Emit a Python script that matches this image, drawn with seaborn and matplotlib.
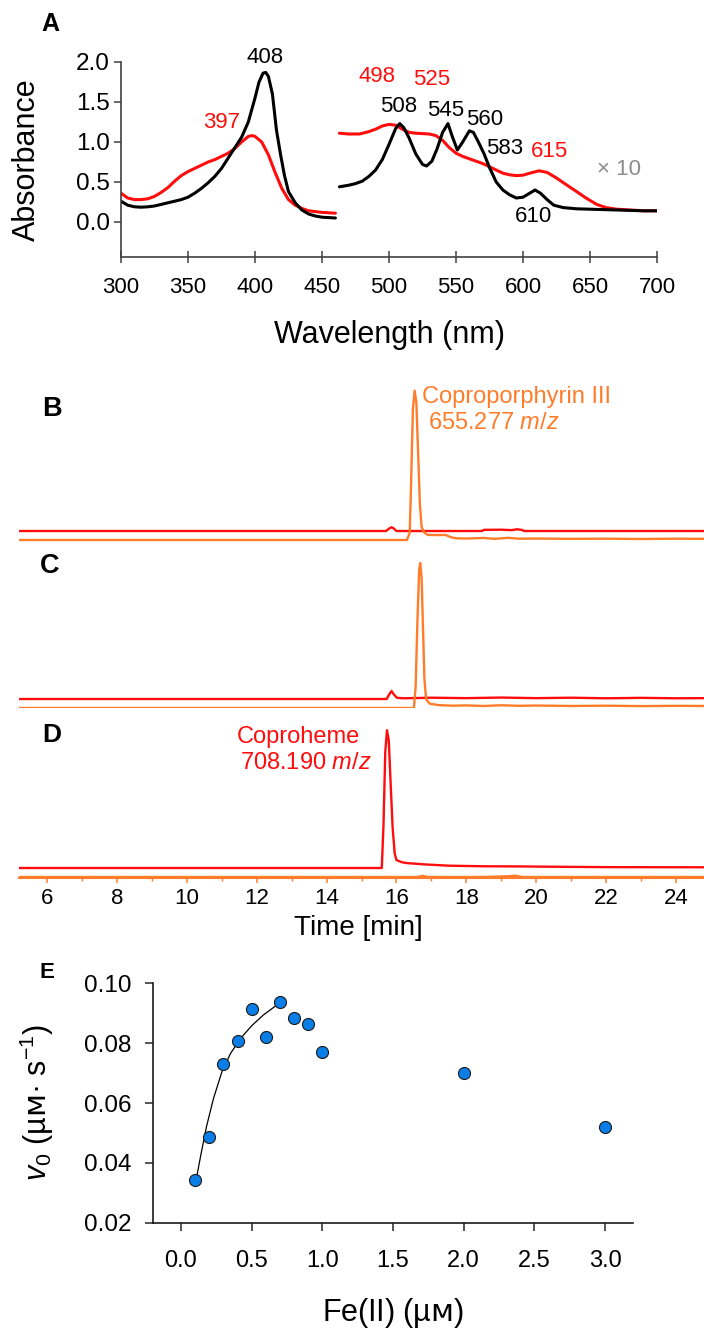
import numpy as np
import pandas as pd
import seaborn as sns
import matplotlib.pyplot as plt
from matplotlib.ticker import MultipleLocator, FormatStrFormatter

# ---- panel A: UV-vis spectra (right part is x10) ----
wl_black_soret = [300, 305, 310, 315, 320, 325, 330, 335, 340, 345, 350, 355, 360, 365, 370,
                  375, 380, 385, 390, 395, 400, 403, 406, 408, 410, 413, 416, 419, 422, 425,
                  430, 435, 440, 445, 450, 455, 460]
abs_black_soret = [0.26, 0.21, 0.19, 0.185, 0.19, 0.20, 0.22, 0.24, 0.26, 0.28, 0.31, 0.36, 0.42,
                   0.49, 0.57, 0.67, 0.80, 0.93, 1.06, 1.25, 1.55, 1.75, 1.86, 1.87, 1.82, 1.6,
                   1.15, 0.85, 0.58, 0.38, 0.24, 0.15, 0.10, 0.075, 0.06, 0.055, 0.05]
wl_red_soret = [300, 305, 310, 315, 320, 325, 330, 335, 340, 345, 350, 355, 360, 365, 370, 375,
                380, 385, 390, 395, 398, 400, 405, 410, 415, 420, 425, 430, 435, 440, 450, 460]
abs_red_soret = [0.36, 0.30, 0.28, 0.28, 0.29, 0.32, 0.37, 0.43, 0.51, 0.58, 0.63, 0.67, 0.71,
                 0.75, 0.78, 0.82, 0.86, 0.92, 1.00, 1.07, 1.08, 1.07, 1.00, 0.84, 0.62, 0.42,
                 0.28, 0.21, 0.17, 0.14, 0.12, 0.11]
wl_black_q = [463, 470, 475, 480, 485, 490, 495, 500, 505, 508, 511, 515, 520, 525, 528, 532,
              536, 540, 544, 547, 551, 555, 560, 563, 567, 571, 575, 580, 585, 590, 595, 600,
              605, 609, 613, 618, 623, 630, 640, 650, 660, 670, 680, 690, 700]
abs_black_q = [0.44, 0.46, 0.48, 0.51, 0.57, 0.65, 0.78, 0.97, 1.17, 1.23, 1.18, 1.05, 0.85,
               0.72, 0.70, 0.76, 0.92, 1.12, 1.23, 1.08, 0.90, 1.00, 1.14, 1.12, 0.99, 0.85,
               0.68, 0.50, 0.40, 0.34, 0.30, 0.31, 0.36, 0.40, 0.36, 0.28, 0.21, 0.18, 0.165,
               0.16, 0.155, 0.15, 0.145, 0.14, 0.14]
wl_red_q = [463, 470, 478, 485, 490, 495, 500, 505, 510, 515, 520, 530, 535, 540, 545, 550,
            555, 560, 565, 570, 575, 580, 585, 590, 595, 600, 605, 612, 618, 625, 632, 640,
            647, 655, 662, 670, 680, 690, 700]
abs_red_q = [1.11, 1.10, 1.10, 1.13, 1.16, 1.20, 1.22, 1.21, 1.16, 1.12, 1.11, 1.10, 1.08,
             1.02, 0.93, 0.86, 0.82, 0.79, 0.76, 0.73, 0.69, 0.65, 0.61, 0.59, 0.58, 0.585,
             0.61, 0.64, 0.62, 0.55, 0.47, 0.38, 0.30, 0.22, 0.18, 0.16, 0.15, 0.14, 0.14]

peak_black = [("408", 407.5, 2.06), ("508", 507, 1.45), ("545", 542, 1.40),
              ("560", 571, 1.28), ("583", 586, 0.92), ("610", 608, 0.075)]
peak_red = [("397", 375, 1.25), ("498", 491, 1.82), ("525", 532, 1.78), ("615", 620, 0.88)]

# ---- panels B-D: extracted ion chromatograms (relative intensity) ----
t_b_cp = [5.2, 16.30, 16.38, 16.42, 16.47, 16.52, 16.57, 16.62, 16.67, 16.72, 16.80, 16.90,
          17.20, 17.40, 17.55, 17.70, 18.0, 18.5, 18.8, 19.2, 19.5, 20.0, 21.0, 22.0, 23.0,
          24.0, 24.8]
i_b_cp = [0, 0, 5, 40, 90, 103, 95, 60, 25, 9, 5, 3.5, 3.4, 3.5, 2, 1.2, 1.0, 1.4, 0.8, 1.5,
          0.9, 1.0, 0.8, 0.9, 0.7, 0.9, 0.8]
t_b_ch = [5.2, 15.70, 15.80, 15.86, 15.92, 16.00, 18.45, 18.5, 19.0, 19.3, 19.45, 19.6,
          19.65, 24.8]
i_b_ch = [0, 0, 1.8, 2.6, 1.8, 0, 0, 0.8, 0.9, 0.6, 1.2, 0.7, 0, 0]

t_c_cp = [5.2, 16.50, 16.55, 16.60, 16.65, 16.68, 16.72, 16.76, 16.80, 16.85, 16.95, 17.2,
          17.6, 18.0, 18.5, 19.0, 19.5, 20.0, 21.0, 22.0, 23.0, 24.0, 24.8]
i_c_cp = [0, 0, 15, 60, 95, 100, 90, 55, 20, 6, 3.0, 2.0, 1.6, 1.8, 1.4, 1.9, 1.5, 1.7, 1.4,
          1.6, 1.3, 1.5, 1.4]
t_c_ch = [5.2, 15.72, 15.80, 15.86, 15.93, 16.02, 16.2, 17.0, 18.0, 19.0, 20.0, 21.0, 22.0,
          23.0, 24.0, 24.8]
i_c_ch = [0, 0, 3.5, 5.5, 3.0, 0.8, 0.5, 0.9, 0.6, 1.0, 0.6, 0.9, 0.5, 0.8, 0.5, 0.6]

t_d_ch = [5.2, 15.58, 15.63, 15.68, 15.73, 15.78, 15.84, 15.89, 15.95, 16.00, 16.15, 16.3,
          16.8, 17.5, 18.5, 19.5, 20.4, 22.0, 24.8]
i_d_ch = [0, 0, 30, 80, 95, 88, 55, 28, 10, 5.5, 4.0, 3.4, 2.5, 1.6, 1.2, 1.1, 0.9, 0.6, 0.5]
t_d_cp = [5.2, 16.6, 16.75, 16.9, 18.5, 19.2, 19.4, 19.6, 24.8]
i_d_cp = [0, 0, 0.8, 0, 0, 0.5, 0.9, 0, 0]

# ---- panel E: initial rates vs Fe(II) ----
fe_conc = [0.1, 0.2, 0.3, 0.4, 0.5, 0.6, 0.7, 0.8, 0.9, 1.0, 2.0, 3.0]
v0 = [0.0344, 0.0487, 0.0731, 0.0808, 0.0913, 0.0820, 0.0936, 0.0883, 0.0863, 0.0771,
      0.0700, 0.0519]
fit_fe = [0.11, 0.14, 0.18, 0.23, 0.29, 0.35, 0.42, 0.50, 0.58, 0.68]
fit_v0 = [0.0350, 0.0425, 0.0520, 0.0615, 0.0705, 0.0765, 0.0815, 0.0858, 0.0893, 0.0928]

RED = "#ff0d0d"
ORANGE = "#ff7d2a"

sns.set_style("ticks")
plt.rcParams["font.family"] = ["Liberation Sans", "DejaVu Sans"]
plt.rcParams["mathtext.fontset"] = "custom"
plt.rcParams["mathtext.rm"] = "Liberation Sans"
plt.rcParams["mathtext.it"] = "Liberation Sans:italic"
plt.rcParams["mathtext.sf"] = "DejaVu Sans"
plt.rcParams["text.color"] = "black"
plt.rcParams["axes.labelcolor"] = "black"
plt.rcParams["xtick.labelcolor"] = "black"
plt.rcParams["ytick.labelcolor"] = "black"

W, H = 704, 1329
fig = plt.figure(figsize=(W / 100, H / 100), dpi=100)


def px_axes(left, top, right, bottom):
    return fig.add_axes([left / W, 1 - bottom / H, (right - left) / W, (bottom - top) / H])


def line(ax, x, y, color, lw):
    df = pd.DataFrame({"x": x, "y": y})
    sns.lineplot(data=df, x="x", y="y", color=color, lw=lw, ax=ax,
                 estimator=None, sort=False)


def centre_labels(ax, xy_x, xy_y):
    # put label centres at given axes coords
    ax.xaxis.label.set_verticalalignment("center")
    ax.yaxis.label.set_verticalalignment("center")
    ax.xaxis.set_label_coords(*xy_x)
    ax.yaxis.set_label_coords(*xy_y)


# ---------------- A ----------------
axA = px_axes(121, 62, 657, 257)
line(axA, wl_red_soret, abs_red_soret, RED, 2.2)
line(axA, wl_black_soret, abs_black_soret, "black", 2.2)
line(axA, wl_red_q, abs_red_q, RED, 2.2)
line(axA, wl_black_q, abs_black_q, "black", 2.2)
for lab, x, y in peak_black:
    axA.text(x, y, lab, color="black", fontsize=16, ha="center", va="center")
for lab, x, y in peak_red:
    axA.text(x, y, lab, color=RED, fontsize=16, ha="center", va="center")
axA.text(672, 0.66, "× 10", color="#8c8c8c", fontsize=16, ha="center", va="center")
axA.set_xlim(300, 700)
axA.set_ylim(-0.4375, 2.0)
axA.set_xticks(range(300, 701, 50))
axA.set_yticks([0.0, 0.5, 1.0, 1.5, 2.0])
axA.yaxis.set_major_formatter(FormatStrFormatter("%.1f"))
sns.despine(ax=axA)
for s in ["left", "bottom"]:
    axA.spines[s].set_color("#404040")
    axA.spines[s].set_linewidth(1.2)
axA.tick_params(axis="x", direction="inout", length=9, width=1.1, color="#404040",
                labelsize=16, pad=10)
axA.tick_params(axis="y", direction="out", length=5, width=1.1, color="#404040",
                labelsize=17.5, pad=3)
axA.set_xlabel("Wavelength (nm)", fontsize=22)
axA.set_ylabel("Absorbance", fontsize=22)
centre_labels(axA, (0.5, (257 - 335) / 195), ((27 - 121) / 536, 0.5))

# ---------------- B, C, D ----------------
RED_OFF = 6.2
axB = px_axes(19, 378, 704, 548)
axC = px_axes(19, 546, 704, 716)
axD = px_axes(19, 708, 704, 878)

line(axB, t_b_ch, np.array(i_b_ch) + RED_OFF, RED, 1.7)
line(axB, t_b_cp, i_b_cp, ORANGE, 1.7)
line(axC, t_c_ch, np.array(i_c_ch) + RED_OFF, RED, 1.7)
line(axC, t_c_cp, i_c_cp, ORANGE, 1.7)
line(axD, t_d_cp, i_d_cp, ORANGE, 1.7)
line(axD, t_d_ch, np.array(i_d_ch) + RED_OFF, RED, 1.7)

for ax in (axB, axC):
    ax.set_xlim(5.2, 24.8)
    ax.set_ylim(-8 / 1.45, 162 / 1.45)
    ax.axis("off")

axD.set_xlim(5.2, 24.8)
axD.set_ylim(-1 / 1.45, 169 / 1.45)
for s in ["top", "left", "right"]:
    axD.spines[s].set_visible(False)
axD.spines["bottom"].set_color(ORANGE)
axD.spines["bottom"].set_linewidth(1.5)
axD.set_yticks([])
axD.xaxis.set_major_locator(MultipleLocator(2))
axD.xaxis.set_minor_locator(MultipleLocator(1))
axD.set_xticks(range(6, 25, 2))
axD.tick_params(axis="x", which="major", direction="out", length=3.5, width=1.1,
                color=ORANGE, labelcolor="black", labelsize=16, pad=4)
axD.tick_params(axis="x", which="minor", direction="out", length=2, width=1.0,
                color=ORANGE)
axD.set_xlabel("Time [min]", fontsize=20)
axD.set_ylabel("")
centre_labels(axD, ((358 - 19) / 685, (878 - 928) / 170), (0, 0.5))
axB.text(16.74, (540 - 397) / 1.45, "Coproporphyrin III", color=ORANGE, fontsize=17,
         ha="left", va="center")
axB.text(16.90, (540 - 423) / 1.45, r"655.277 $\mathit{m/z}$", color=ORANGE, fontsize=17,
         ha="left", va="center")
axD.text(14.95, (877 - 737) / 1.45, "Coproheme", color=RED, fontsize=17,
         ha="right", va="center")
axD.text(15.30, (877 - 763) / 1.45, r"708.190 $\mathit{m/z}$", color=RED, fontsize=17,
         ha="right", va="center")

# ---------------- E ----------------
axE = px_axes(152.7, 983.3, 633.3, 1222.7)
line(axE, fit_fe, fit_v0, "black", 0.9)
sns.scatterplot(x=fe_conc, y=v0, s=75, color="#0a7de6", edgecolor="#1a1a1a",
                linewidth=0.8, ax=axE, zorder=3, clip_on=False)
axE.set_xlim(-0.2, 3.2)
axE.set_ylim(0.02, 0.10)
axE.set_xticks([0.0, 0.5, 1.0, 1.5, 2.0, 2.5, 3.0])
axE.set_yticks([0.02, 0.04, 0.06, 0.08, 0.10])
axE.xaxis.set_major_formatter(FormatStrFormatter("%.1f"))
axE.yaxis.set_major_formatter(FormatStrFormatter("%.2f"))
sns.despine(ax=axE)
for s in ["left", "bottom"]:
    axE.spines[s].set_color("#1a1a1a")
    axE.spines[s].set_linewidth(1.2)
axE.tick_params(axis="x", direction="out", length=5.8, width=1.1, labelsize=17, pad=14)
axE.tick_params(axis="y", direction="out", length=5.5, width=1.1, labelsize=17.5, pad=10)
axE.set_xlabel(r"Fe(II) (µ$\mathsf{ᴍ}$)", fontsize=22)
axE.set_ylabel(r"$\mathit{v}_0$ (µ$\mathsf{ᴍ}$· s$^{-1}$)", fontsize=22)
centre_labels(axE, (0.5, (1222.7 - 1313) / 239.4), ((36.7 - 152.7) / 480.6, 0.5))

# panel letters
for lab, x, y, fs in [("A", 50, 24, 18), ("B", 52, 409, 19.5), ("C", 50, 566, 19.5),
                      ("D", 52, 735, 19), ("E", 47, 972, 16)]:
    fig.text(x / W, 1 - y / H, lab, fontsize=fs, fontweight="bold", ha="center", va="center")

fig.savefig("out.png", dpi=100)
